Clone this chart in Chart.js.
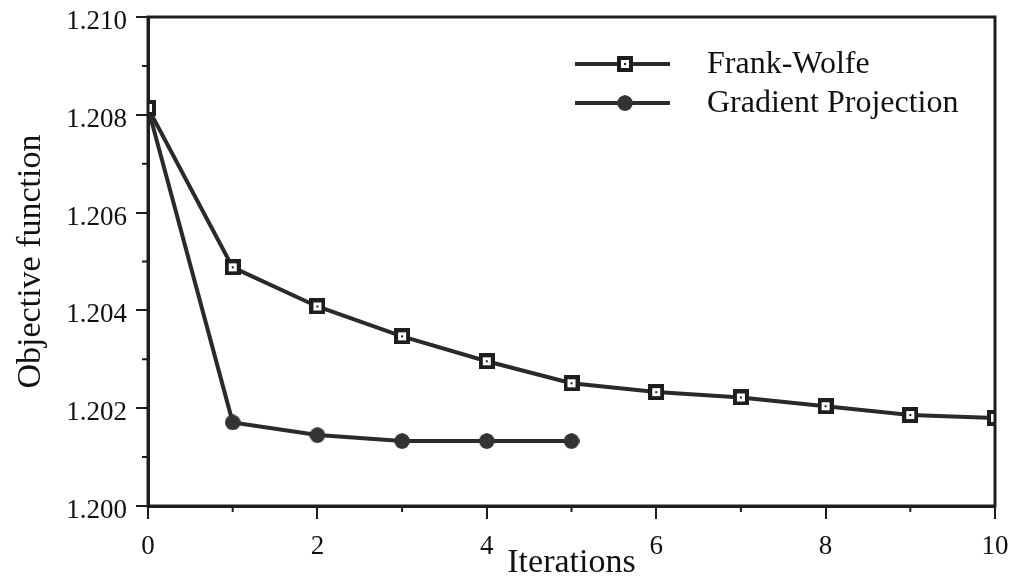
<!DOCTYPE html>
<html>
<head>
<meta charset="utf-8">
<script src="https://cdn.jsdelivr.net/npm/chart.js@4/dist/chart.umd.min.js"></script>
<style>
  html, body { margin: 0; padding: 0; background: #fff; }
  #wrap { width: 1012px; height: 576px; }
</style>
</head>
<body>
<div id="wrap"><canvas id="chart" width="1012" height="576"></canvas></div>
<script>
// Data
const iterations = [0, 1, 2, 3, 4, 5, 6, 7, 8, 9, 10];
const frankWolfe = [1.20814, 1.20488, 1.20408, 1.20347, 1.20296, 1.20251, 1.20233, 1.20222, 1.20204, 1.20186, 1.20180];
const gradientProjection = [1.20814, 1.20171, 1.20145, 1.20133, 1.20133, 1.20133];
const seriesNames = ['Frank-Wolfe', 'Gradient Projection'];

// Axis ticks
const xMajor = [0, 2, 4, 6, 8, 10];
const xMinor = [1, 3, 5, 7, 9];
const yMajor = [1.200, 1.202, 1.204, 1.206, 1.208, 1.210];
const yMinor = [1.201, 1.203, 1.205, 1.207, 1.209];

const INK = '#1e1e1e';
const SERIF = '"Liberation Serif", "Times New Roman", serif';

// Marker images
function squareMarker() {
    const c = document.createElement('canvas');
    c.width = 16; c.height = 16;
    const g = c.getContext('2d');
    g.fillStyle = INK;
    g.fillRect(0, 0, 16, 16);
    g.fillStyle = '#fff';
    g.fillRect(4, 4, 8, 8);
    g.fillStyle = INK;
    g.fillRect(7, 7, 2, 2);
    return c;
}

function roundMarker() {
    const c = document.createElement('canvas');
    c.width = 16; c.height = 16;
    const g = c.getContext('2d');
    g.fillStyle = '#333';
    g.beginPath();
    g.moveTo(8, 0); g.quadraticCurveTo(15, 1, 16, 8);
    g.quadraticCurveTo(15, 15, 8, 16);
    g.quadraticCurveTo(1, 15, 0, 8);
    g.quadraticCurveTo(1, 1, 8, 0);
    g.fill();
    return c;
}

const markers = [squareMarker(), roundMarker()];

// Minor ticks + frame
const frameAndMinor = {
    id: 'frameAndMinor',
    afterDraw(chart) {
        const { ctx, chartArea: a, scales: { x, y } } = chart;
        ctx.save();
        ctx.strokeStyle = INK;
        ctx.lineWidth = 3;
        ctx.strokeRect(a.left, a.top, a.right - a.left, a.bottom - a.top);
        ctx.lineWidth = 2;
        ctx.beginPath();
        xMinor.forEach(v => {
            const px = x.getPixelForValue(v);
            ctx.moveTo(px, a.bottom);
            ctx.lineTo(px, a.bottom + 6);
        });
        yMinor.forEach(v => {
            const py = y.getPixelForValue(v);
            ctx.moveTo(a.left, py);
            ctx.lineTo(a.left - 6, py);
        });
        ctx.stroke();
        ctx.restore();
    }
};

// Legend drawn inside the plot, line + marker + label
const insideLegend = {
    id: 'insideLegend',
    afterDraw(chart) {
        const { ctx, chartArea: a } = chart;
        const x0 = a.left + 427, x1 = a.left + 522, xm = a.left + 477;
        const rows = [a.top + 47, a.top + 86];
        ctx.save();
        chart.data.datasets.forEach((ds, i) => {
            const yy = rows[i];
            ctx.strokeStyle = ds.borderColor;
            ctx.lineWidth = ds.borderWidth;
            ctx.beginPath();
            ctx.moveTo(x0, yy);
            ctx.lineTo(x1, yy);
            ctx.stroke();
            const img = ds.pointStyle;
            ctx.drawImage(img, xm - img.width / 2, yy - img.height / 2);
            ctx.fillStyle = '#111';
            ctx.font = '32px ' + SERIF;
            ctx.textBaseline = 'middle';
            ctx.fillText(ds.label, a.left + 559, yy + 1);
        });
        ctx.restore();
    }
};

const toXY = (vals) => vals.map((v, i) => ({ x: iterations[i], y: v }));

const ctx = document.getElementById('chart').getContext('2d');
const chart = new Chart(ctx, {
    type: 'line',
    data: {
        datasets: [
            {
                label: seriesNames[0],
                data: toXY(frankWolfe),
                borderColor: '#2a2a2a',
                borderWidth: 4,
                pointStyle: markers[0],
                tension: 0
            },
            {
                label: seriesNames[1],
                data: toXY(gradientProjection),
                borderColor: '#2a2a2a',
                borderWidth: 4,
                pointStyle: markers[1],
                tension: 0
            }
        ]
    },
    options: {
        responsive: false,
        animation: false,
        layout: { padding: { top: 17, right: 17, bottom: 0, left: 0 } },
        plugins: {
            legend: { display: false },
            tooltip: { enabled: false }
        },
        scales: {
            x: {
                type: 'linear',
                min: 0,
                max: 10,
                afterBuildTicks: (s) => { s.ticks = xMajor.map(v => ({ value: v })); },
                afterFit: (s) => { s.height = 70; s.paddingLeft = 0; s.paddingRight = 0; },
                border: { display: true, color: INK, width: 3 },
                grid: { display: true, drawOnChartArea: false, color: INK, lineWidth: 2, tickLength: 13 },
                ticks: {
                    color: '#111',
                    padding: 12,
                    maxRotation: 0,
                    font: { family: SERIF, size: 27 },
                    callback: (v) => String(v)
                },
                title: {
                    display: true,
                    text: 'Iterations',
                    color: '#111',
                    font: { family: SERIF, size: 34, lineHeight: 1 },
                    padding: { top: 0, bottom: -4 }
                }
            },
            y: {
                type: 'linear',
                min: 1.200,
                max: 1.210,
                afterBuildTicks: (s) => { s.ticks = yMajor.map(v => ({ value: v })); },
                afterFit: (s) => { s.width = 148; s.paddingTop = 0; s.paddingBottom = 0; },
                border: { display: true, color: INK, width: 3 },
                grid: { display: true, drawOnChartArea: false, color: INK, lineWidth: 2, tickLength: 12 },
                ticks: {
                    color: '#111',
                    padding: 9,
                    labelOffset: 5,
                    font: { family: SERIF, size: 27 },
                    callback: (v) => Number(v).toFixed(3)
                },
                title: {
                    display: true,
                    text: 'Objective function',
                    color: '#111',
                    font: { family: SERIF, size: 34, lineHeight: 1 },
                    padding: { top: 14, bottom: 0 }
                }
            }
        }
    },
    plugins: [frameAndMinor, insideLegend]
});
</script>
</body>
</html>
